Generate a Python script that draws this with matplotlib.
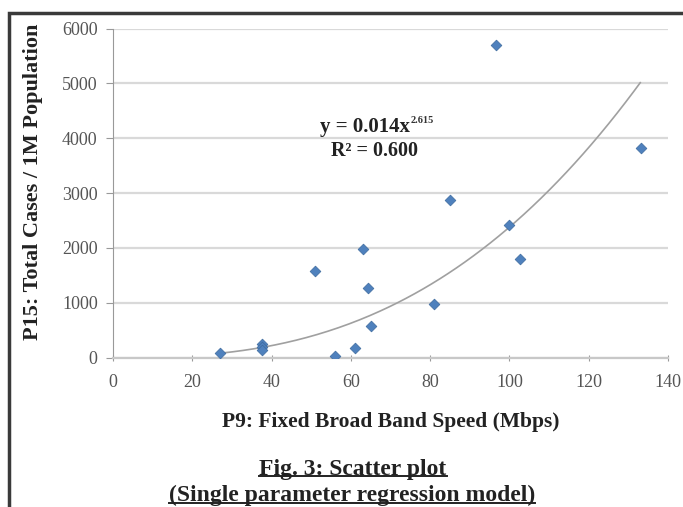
import numpy as np
import matplotlib.pyplot as plt
from matplotlib.patches import Rectangle
from matplotlib.lines import Line2D

plt.rcParams['font.family'] = ['Liberation Serif', 'DejaVu Serif']

# P9: Fixed Broad Band Speed (Mbps) vs P15: Total Cases / 1M Population
speed = [27, 37.5, 37.5, 37.5, 50.9, 56, 61, 63.1, 64.2, 65, 81, 85.1, 96.5, 100, 102.6, 133.1]
cases = [80, 250, 200, 130, 1580, 30, 180, 1970, 1275, 570, 980, 2880, 5690, 2410, 1790, 3825]

# power trendline shown on the chart
coef_a = 0.014
coef_b = 2.615
trend_range = (27, 133)

fig = plt.figure(figsize=(6.83, 5.07), dpi=100)
ax = fig.add_axes([113 / 683, 1 - 357.5 / 507, (668 - 113) / 683, (357.5 - 28.5) / 507])

ax.yaxis.grid(True, color='#d9d9d9', linewidth=1.6)
ax.set_axisbelow(True)

xt = np.linspace(trend_range[0], trend_range[1], 200)
ax.plot(xt, coef_a * xt ** coef_b, color='#a0a0a0', linewidth=1.2, zorder=2)

ax.scatter(speed, cases, marker='D', s=30, color='#4f81bd', edgecolor='#3d6a9e',
           linewidth=0.5, zorder=3)

ax.set_xlim(0, 140)
ax.set_ylim(0, 6000)
ax.set_xticks(range(0, 141, 20))
ax.set_yticks(range(0, 6001, 1000))

for s in ['top', 'right']:
    ax.spines[s].set_visible(False)
ax.spines['left'].set_color('#999999')
ax.spines['bottom'].set_color('#c8c8c8')
ax.spines['bottom'].set_linewidth(1.6)
ax.tick_params(axis='both', colors='#999999', labelcolor='#555555', labelsize=13, length=5)
ax.tick_params(axis='x', direction='inout', length=4, pad=10)
ax.tick_params(axis='y', pad=6)

ax.set_xlabel('P9: Fixed Broad Band Speed (Mbps)', fontsize=15.5, fontweight='bold',
              color='#222222')
ax.set_ylabel('P15: Total Cases / 1M Population', fontsize=16, fontweight='bold',
              color='#222222')
ax.xaxis.set_label_coords(0.5, -0.165)
ax.yaxis.set_label_coords(-0.127, 0.533)

# trendline equation
ax.text(75, 4210, 'y = 0.014x', ha='right', va='center', fontsize=15,
        fontweight='bold', color='#222222')
ax.annotate('2.615', xy=(75, 4210), xytext=(0.5, 1), textcoords='offset points',
            ha='left', va='bottom', fontsize=7.5, fontweight='bold', color='#333333')
ax.text(66, 3770, 'R² = 0.600', ha='center', va='center', fontsize=14.5,
        fontweight='bold', color='#222222')

# figure frame
fig.patches.append(Rectangle((9 / 683, -0.05), 1.1, 1 - 13 / 507 + 0.05,
                             transform=fig.transFigure, fill=False,
                             edgecolor='#3a3a3a', linewidth=2.5))

cap1 = fig.text(353 / 683, 1 - 469 / 507, 'Fig. 3: Scatter plot', ha='center', va='center',
                fontsize=17, fontweight='bold', color='#222222')
cap2 = fig.text(352 / 683, 1 - 495 / 507, '(Single parameter regression model)', ha='center',
                va='center', fontsize=17, fontweight='bold', color='#222222')

# underline the caption lines
fig.canvas.draw()
r = fig.canvas.get_renderer()
for t in (cap1, cap2):
    bb = t.get_window_extent(r).transformed(fig.transFigure.inverted())
    yl = bb.y0 + 0.006
    fig.lines.append(Line2D([bb.x0, bb.x1], [yl, yl], transform=fig.transFigure,
                            color='#222222', linewidth=1.4))

fig.savefig('out.png', dpi=100)
